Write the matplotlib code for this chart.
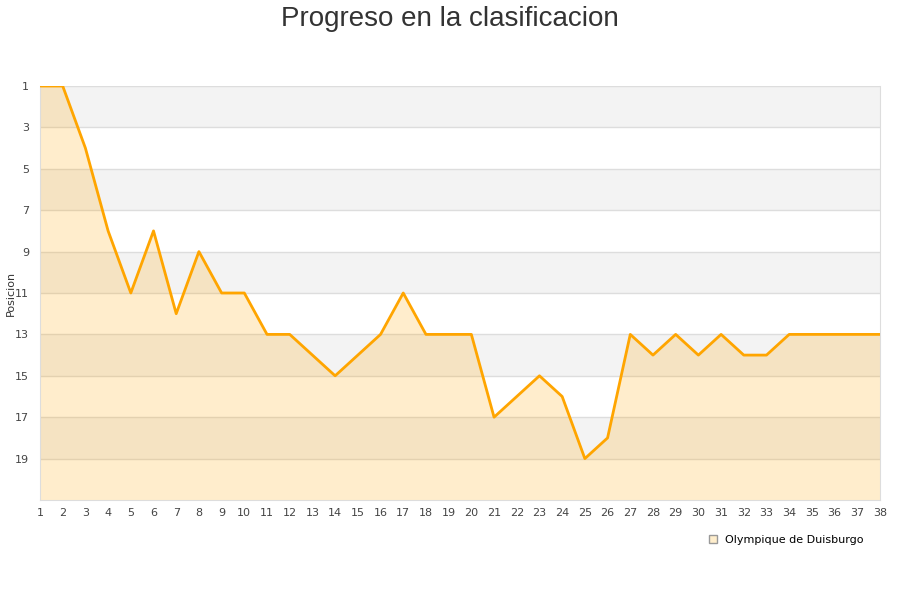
import numpy as np
import matplotlib.pyplot as plt

# jornadas y posiciones
jornadas = list(range(1, 39))
posicion = [1, 1, 4, 8, 11, 8, 12, 9, 11, 11,
            13, 13, 14, 15, 14, 13, 11, 13, 13, 13,
            17, 16, 15, 16, 19, 18, 13, 14, 13, 14,
            13, 14, 14, 13, 13, 13, 13, 13]
y_ticks = list(range(1, 20, 2))
equipo = "Olympique de Duisburgo"

fig = plt.figure(figsize=(9, 6), dpi=100)
ax = fig.add_axes([40/900, 1 - 500/600, 840/900, 414/600])

# bandas alternas
for y0 in range(1, 21, 4):
    ax.axhspan(y0, y0 + 2, color='#f3f3f3', zorder=0, lw=0)
for y in y_ticks:
    ax.axhline(y, color='#dddddd', lw=1, zorder=1)

ax.fill_between(jornadas, posicion, 21, color='#ffa500', alpha=0.2, lw=0, zorder=2)
ax.plot(jornadas, posicion, color='#ffa500', lw=2, zorder=3)
ax.plot([], [], 's', color='#ffeecc', markeredgecolor='#999999', markersize=6, label=equipo)

ax.set_xlim(1, 38)
ax.set_ylim(21, 1)
ax.set_xticks(jornadas)
ax.set_yticks(y_ticks)
ax.tick_params(length=0, labelsize=8, colors='#444444', pad=6)
ax.tick_params(axis='y', pad=8)
for s in ['left', 'right', 'bottom']:
    ax.spines[s].set_color('#dddddd')
ax.spines['top'].set_visible(False)
ax.set_ylabel('Posicion', fontsize=8, color='#333333')
ax.yaxis.set_label_coords(-24/840, 0.5)

fig.suptitle('Progreso en la clasificacion', fontsize=20, color='#333333', y=0.99,
             family=['Liberation Sans', 'DejaVu Sans'])
ax.legend(loc='upper right', bbox_to_anchor=(0.992, -0.06), frameon=False,
          fontsize=8, handletextpad=0.6, handlelength=1)

fig.savefig('out.png')
